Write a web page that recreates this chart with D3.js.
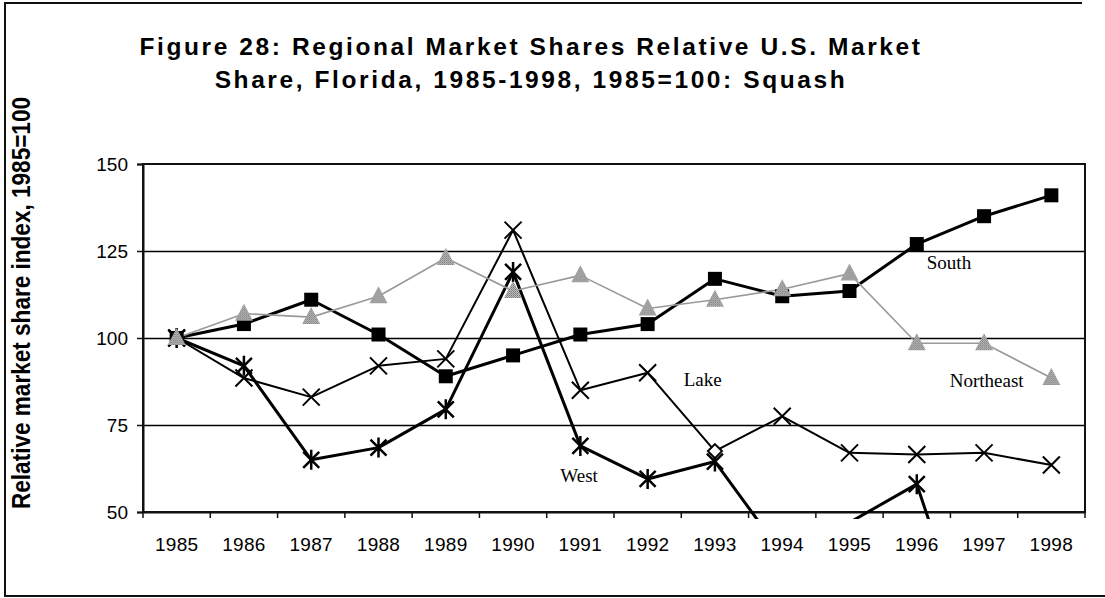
<!DOCTYPE html>
<html>
<head>
<meta charset="utf-8">
<script src="https://cdn.jsdelivr.net/npm/d3@7"></script>
<style>
  body { margin: 0; background: #fff; }
  svg { display: block; }
</style>
</head>
<body>
<div id="chart"></div>
<script>
var vWidth = 1105;
var vHeight = 598;

// Data
var years = ["1985","1986","1987","1988","1989","1990","1991","1992","1993","1994","1995","1996","1997","1998"];
var south     = [100, 104, 111, 101, 89, 95, 101, 104, 117, 112, 113.5, 127, 135, 141];
var northeast = [100, 107, 106, 112, 123, 113.5, 118, 108.5, 111, 114, 118.5, 98.5, 98.5, 88.5];
var lake      = [100, 88.5, 83, 92, 94, 131, 85, 90, 67.5, 77.5, 67, 66.5, 67, 63.5];
var west      = [100, 92, 65, 68.5, 79.5, 119, 69, 59.5, 64.5, 38, 47, 58, 0, 0];
var yTicks = [50, 75, 100, 125, 150];
var gridValues = [75, 100, 125];
var titleLines = ["Figure 28:  Regional Market Shares Relative U.S. Market",
                  "Share, Florida, 1985-1998, 1985=100: Squash"];
var yLabel = "Relative market share index, 1985=100";

var plot = { left: 143, right: 1085, top: 164, bottom: 512 };

var svg = d3.select("#chart")
  .append("svg")
  .attr("width", vWidth)
  .attr("height", vHeight);

// outer frame (left, top, bottom)
svg.append("path")
  .attr("d", "M1082,3 H5 V596 H1105")
  .attr("fill", "none")
  .attr("stroke", "#111")
  .attr("stroke-width", 2);

var x = d3.scaleBand().domain(years).range([plot.left, plot.right]);
var y = d3.scaleLinear().domain([50, 150]).range([plot.bottom, plot.top]);
var cx = d => x(d) + x.bandwidth() / 2;

// title
svg.append("g").selectAll("text")
  .data(titleLines)
  .enter().append("text")
  .attr("x", 531)
  .attr("y", (d, i) => 55 + i * 33)
  .attr("text-anchor", "middle")
  .attr("font-family", "Liberation Sans, Arial, sans-serif")
  .attr("font-weight", "bold")
  .attr("font-size", 24.5)
  .attr("letter-spacing", 2.6)
  .text(d => d);

// y axis label
svg.append("text")
  .attr("transform", "translate(30," + 303 + ") rotate(-90)")
  .attr("text-anchor", "middle")
  .attr("font-family", "Liberation Sans, Arial, sans-serif")
  .attr("font-weight", "bold")
  .attr("font-size", 26)
  .attr("textLength", 412)
  .attr("lengthAdjust", "spacingAndGlyphs")
  .text(yLabel);

// gridlines
svg.append("g").selectAll("line")
  .data(gridValues)
  .enter().append("line")
  .attr("x1", plot.left).attr("x2", plot.right)
  .attr("y1", d => Math.round(y(d)) + 0.5).attr("y2", d => Math.round(y(d)) + 0.5)
  .attr("stroke", "#000")
  .attr("stroke-width", 1.3);

// plot border
svg.append("rect")
  .attr("x", plot.left).attr("y", plot.top)
  .attr("width", plot.right - plot.left).attr("height", plot.bottom - plot.top)
  .attr("fill", "none")
  .attr("stroke", "#111")
  .attr("stroke-width", 2);

// y axis
var yAxis = d3.axisLeft(y).tickValues(yTicks).tickSize(6).tickPadding(9);
var gy = svg.append("g")
  .attr("transform", "translate(" + plot.left + ",0)")
  .call(yAxis);
gy.select(".domain").attr("stroke", "#111").attr("stroke-width", 2);
gy.selectAll(".tick line").attr("stroke", "#111").attr("stroke-width", 1.5);
gy.selectAll("text")
  .attr("font-family", "Liberation Sans, Arial, sans-serif")
  .attr("font-size", 19)
  .attr("fill", "#000");

// x axis, ticks at category boundaries
var xAxis = d3.axisBottom(x).tickSize(0).tickPadding(26);
var gx = svg.append("g")
  .attr("transform", "translate(0," + plot.bottom + ")")
  .call(xAxis);
gx.select(".domain").attr("stroke", "#111").attr("stroke-width", 2);
gx.selectAll("text")
  .attr("font-family", "Liberation Sans, Arial, sans-serif")
  .attr("font-size", 19)
  .attr("letter-spacing", 0.3)
  .attr("fill", "#000");
gx.selectAll(".bound")
  .data(years.concat(["end"]))
  .enter().append("line")
  .attr("class", "bound")
  .attr("x1", (d, i) => i < years.length ? x(d) : plot.right)
  .attr("x2", (d, i) => i < years.length ? x(d) : plot.right)
  .attr("y1", 0).attr("y2", 6)
  .attr("stroke", "#111")
  .attr("stroke-width", 1.5);

// dithered grey for the triangles
var defs = svg.append("defs");
var pat = defs.append("pattern")
  .attr("id", "dither")
  .attr("width", 2).attr("height", 2)
  .attr("patternUnits", "userSpaceOnUse");
pat.append("rect").attr("width", 2).attr("height", 2).attr("fill", "#c4c4c4");
pat.append("rect").attr("width", 1).attr("height", 1).attr("fill", "#6e6e6e");
pat.append("rect").attr("x", 1).attr("y", 1).attr("width", 1).attr("height", 1).attr("fill", "#8a8a8a");

defs.append("clipPath").attr("id", "clip")
  .append("rect")
  .attr("x", plot.left).attr("y", plot.top - 20)
  .attr("width", plot.right - plot.left).attr("height", plot.bottom - plot.top + 27);

var lineGen = d3.line()
  .x((d, i) => cx(years[i]))
  .y(d => y(d));

var series = [
  { name: "South", values: south, stroke: "#000", width: 3 },
  { name: "West", values: west, stroke: "#000", width: 3 },
  { name: "Lake", values: lake, stroke: "#000", width: 2 },
  { name: "Northeast", values: northeast, stroke: "#9a9a9a", width: 1.6 }
];

var chart = svg.append("g").attr("clip-path", "url(#clip)");

series.forEach(function (s) {
  chart.append("path")
    .datum(s.values)
    .attr("d", lineGen)
    .attr("fill", "none")
    .attr("stroke", s.stroke)
    .attr("stroke-width", s.width)
    .attr("stroke-linejoin", "round");
});

function points(values) {
  return values.map((v, i) => ({ year: years[i], v: v }))
    .filter(d => d.v >= 50 && d.v <= 150);
}

// South: filled squares
chart.selectAll(".sq").data(points(south)).enter().append("rect")
  .attr("x", d => cx(d.year) - 7).attr("y", d => y(d.v) - 7)
  .attr("width", 14).attr("height", 14)
  .attr("fill", "#000");

// West: asterisks
chart.selectAll(".ast").data(points(west)).enter().append("path")
  .attr("transform", d => "translate(" + cx(d.year) + "," + y(d.v) + ")")
  .attr("d", "M-8,-8L8,8M-8,8L8,-8M0,-10V10")
  .attr("stroke", "#000").attr("stroke-width", 2.5).attr("fill", "none");

// Lake: crosses (1993 point shows as an open diamond)
chart.selectAll(".lx").data(points(lake)).enter().append("path")
  .attr("transform", d => "translate(" + cx(d.year) + "," + y(d.v) + ")")
  .attr("d", d => d.year === "1993" ? "M0,-7L7,0L0,7L-7,0Z" : "M-8.5,-8.5L8.5,8.5M-8.5,8.5L8.5,-8.5")
  .attr("stroke", "#000").attr("stroke-width", 2)
  .attr("fill", d => d.year === "1993" ? "#fff" : "none");

// Northeast: grey triangles
chart.selectAll(".tri").data(points(northeast)).enter().append("path")
  .attr("transform", d => "translate(" + cx(d.year) + "," + y(d.v) + ")")
  .attr("d", "M0,-10L9,7L-9,7Z")
  .attr("fill", "url(#dither)");

// series labels, anchored to data positions
var labels = [
  { text: "South", year: "1996", v: 119.8, dx: 10 },
  { text: "Lake", year: "1992", v: 86.2, dx: 36 },
  { text: "Northeast", year: "1996", v: 85.9, dx: 33 },
  { text: "West", year: "1991", v: 58.6, dx: -20 }
];
svg.append("g").selectAll("text")
  .data(labels)
  .enter().append("text")
  .attr("x", d => cx(d.year) + d.dx)
  .attr("y", d => y(d.v))
  .attr("font-family", "Liberation Serif, Times New Roman, serif")
  .attr("font-size", 19)
  .text(d => d.text);
</script>
</body>
</html>
